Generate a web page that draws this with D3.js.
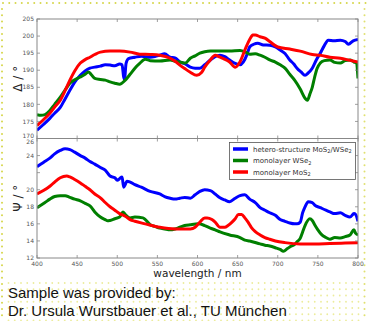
<!DOCTYPE html>
<html><head><meta charset="utf-8">
<script src="https://cdn.jsdelivr.net/npm/d3@7"></script>
<style>
html,body{margin:0;padding:0;background:#fff;}
svg{display:block;}
</style></head>
<body>
<svg id="c" width="367" height="321"></svg>
<script>
// ---- data ----
const xTicks = [400,450,500,550,600,650,700,750,800];
const deltaTicks = [170,175,180,185,190,195,200,205];
const psiTicks = [12,14,16,18,20,22,24,26];
const psiTickLabels = ["12","14","16","18","20","","24","26"];
const seriesNames = ["hetero-structure", "monolayer WSe", "monolayer MoS"];
const seriesColors = ["#0000ff", "#007f00", "#ff0000"];

// Delta (top panel)
const heteroDeltaL = [400,408,416,422,429,435,441,447,454,460,466,472,479,485,491,497,503,506,508,509,511,514,522,530,541,547,553,559,566,572,578,584,591,597,603,609,616,622,628,634,640,647,653,657,662,665,670,675,682,690,697,703,709,715,720,724,729,734,738,743,748,753,758,763,770,778,784,788,794,800];
const heteroDeltaV = [172.4,174.1,175.9,177.4,179.1,181.6,184.1,186.5,188.5,189.8,190.6,190.9,191.2,191.6,191.5,191.3,191.8,191.6,188.0,187.3,192.0,193.4,193.8,194.1,193.8,194.0,194.4,194.8,193.8,193.6,192.4,191.9,190.9,190.6,190.6,191.6,193.0,194.0,194.4,194.0,193.0,192.0,191.6,192.4,194.8,196.8,197.6,197.9,197.4,197.3,196.8,195.9,194.9,193.0,191.8,190.6,189.5,188.5,189.2,190.6,193.0,195.0,197.2,198.8,198.6,198.8,198.4,197.6,198.6,199.0];
const monoWSe2DeltaL = [400,405,410,416,422,429,435,441,447,454,460,464,468,472,479,485,491,497,503,510,516,522,528,535,541,553,566,572,578,585,591,597,603,609,616,622,628,640,653,660,665,672,678,684,690,697,703,709,715,721,728,734,737,740,743,746,749,753,758,765,771,778,784,790,795,798,800];
const monoWSe2DeltaV = [177.0,176.8,177.0,178.2,180.0,182.1,184.2,186.2,187.2,188.0,188.8,189.5,188.6,187.6,187.3,187.1,186.6,186.2,185.9,187.1,188.8,190.6,192.0,193.2,192.8,192.7,193.0,192.6,192.4,192.1,193.5,194.2,195.0,195.4,195.6,195.6,195.6,195.6,195.8,195.3,194.7,194.8,194.4,193.8,193.0,192.4,191.6,190.6,188.8,187.1,184.5,181.8,181.2,183.0,185.0,188.0,190.5,192.1,192.8,193.0,192.3,192.1,192.8,193.0,192.4,192.1,187.6];
const monoMoS2DeltaL = [400,408,416,422,429,435,441,447,454,460,466,472,479,491,503,516,528,541,553,566,572,578,584,591,599,605,609,616,622,628,634,640,647,653,660,665,669,672,678,684,690,700,715,728,743,753,765,778,790,800];
const monoMoS2DeltaV = [173.8,175.5,177.4,179.2,181.2,184.0,187.1,189.8,192.1,193.1,193.8,194.6,195.3,195.6,195.6,195.3,194.7,194.6,194.4,193.5,192.6,191.5,190.5,189.4,188.5,189.3,190.9,193.0,194.4,193.8,193.2,192.4,190.9,192.5,196.5,199.0,200.3,200.3,199.8,199.4,198.4,196.8,196.2,195.6,194.6,194.4,193.8,193.5,192.9,192.4];

// Psi (bottom panel)
const heteroPsiL = [400,408,416,422,429,435,441,447,454,460,466,472,479,485,491,497,500,503,506,508,510,512,516,522,530,541,553,559,566,572,578,584,591,597,603,609,616,622,628,634,640,647,653,659,665,672,678,684,690,697,703,709,715,721,724,728,731,734,738,743,746,753,760,765,771,778,784,790,795,797,800];
const heteroPsiV = [22.7,23.2,23.7,24.2,24.6,24.8,24.7,24.4,24.0,23.7,23.3,23.0,22.6,22.3,21.6,21.4,21.1,21.3,21.5,20.3,20.6,21.0,20.9,20.6,20.3,19.8,19.5,19.2,19.0,18.9,19.0,19.1,19.0,19.4,19.8,20.0,19.9,19.5,19.05,18.8,18.6,19.0,19.3,19.4,18.9,18.5,17.9,17.6,17.3,17.0,16.5,16.3,16.1,16.0,16.0,16.2,17.3,18.0,18.6,18.5,18.2,17.9,17.6,17.4,17.2,17.3,17.0,16.8,17.2,17.1,16.3];
const monoWSe2PsiL = [400,410,416,422,429,435,441,447,454,460,466,472,479,485,488,491,497,503,507,510,516,522,532,535,541,547,553,559,566,572,578,584,591,601,609,616,622,628,640,653,659,665,678,684,690,697,703,707,712,715,721,724,728,731,734,740,743,746,750,755,760,765,771,778,784,790,795,797,800];
const monoWSe2PsiV = [17.9,18.5,18.9,19.2,19.3,19.3,19.1,18.9,18.7,18.4,18.1,17.4,16.8,16.5,16.35,16.4,16.6,16.8,17.4,17.1,16.7,16.8,16.7,16.5,15.9,15.7,15.5,15.4,15.3,15.4,15.6,15.8,15.9,16.0,15.8,15.5,15.3,15.05,14.7,14.4,14.1,14.0,13.65,13.5,13.4,13.2,13.0,12.8,13.1,13.3,13.6,13.9,14.3,15.05,15.8,16.6,16.4,15.9,15.3,14.7,14.4,14.2,14.4,14.35,14.5,14.7,15.3,14.9,14.7];
const monoMoS2PsiL = [400,408,416,422,429,437,441,447,454,460,466,472,479,485,491,497,503,510,516,522,535,553,572,584,591,597,603,609,612,618,622,628,634,638,643,647,651,655,659,663,667,672,678,684,690,697,709,728,746,765,784,800];
const monoMoS2PsiV = [19.5,19.9,20.4,20.9,21.4,21.6,21.5,21.2,20.8,20.4,20.0,19.5,19.05,18.5,18.0,17.6,17.2,16.9,16.5,16.3,16.0,15.6,15.4,15.4,15.4,15.6,16.2,16.7,16.7,16.5,16.2,15.6,15.6,15.8,16.2,16.6,17.1,17.1,16.7,16.2,15.6,15.1,14.7,14.4,14.2,14.0,13.8,13.65,13.65,13.7,13.75,13.8];

// ---- drawing ----
const svg = d3.select("#c");
const W = 367, H = 321;

// decorative dotted frame & dot grid
const deco = svg.append("g");
for (let x = 3; x < W; x += 6.25) deco.append("circle").attr("cx", x).attr("cy", 3).attr("r", 1).attr("fill", "#d6d64a");
for (let y = 9; y < H; y += 6.25) {
  deco.append("circle").attr("cx", 2).attr("cy", y).attr("r", 1).attr("fill", "#d6d64a");
  deco.append("circle").attr("cx", 364.5).attr("cy", y).attr("r", 1).attr("fill", "#e0e070");
}
for (let y = 283; y < H; y += 6.25)
  for (let x = 8.5; x < 362; x += 6.25)
    deco.append("circle").attr("cx", x).attr("cy", y).attr("r", 0.9).attr("fill", "#ecec9c");

const L = 37, R = 358;
const topT = 19, topB = 138.5, botT = 138.5, botB = 258;
const x = d3.scaleLinear().domain([400, 800]).range([L, R]);
const yTop = d3.scaleLinear().domain([170, 205]).range([topB, topT]);
const yBot = d3.scaleLinear().domain([12, 26]).range([botB, botT]);

const tickFont = "DejaVu Sans, sans-serif";
function panel(y) {
  const yr = y.range();
  svg.append("rect").attr("x", L).attr("y", yr[1]).attr("width", R - L).attr("height", yr[0] - yr[1])
    .attr("fill", "#fff");
}
function frame(y, yTicks, yLabels, showX, firstDy, lastDy) {
  const g = svg.append("g");
  const y0 = y.range()[0], y1 = y.range()[1];
  xTicks.forEach(t => {
    g.append("line").attr("x1", x(t)).attr("x2", x(t)).attr("y1", y0).attr("y2", y0 - 3).attr("stroke", "#777").attr("stroke-width", 0.7);
    g.append("line").attr("x1", x(t)).attr("x2", x(t)).attr("y1", y1).attr("y2", y1 + 3).attr("stroke", "#777").attr("stroke-width", 0.7);
    if (showX) g.append("text").attr("x", x(t)).attr("y", y0 + 7.5).attr("text-anchor", "middle")
      .attr("font-family", tickFont).attr("font-size", 6).attr("fill", "#555").text(t);
  });
  yTicks.forEach((t, i) => {
    g.append("line").attr("x1", L).attr("x2", L + 3).attr("y1", y(t)).attr("y2", y(t)).attr("stroke", "#777").attr("stroke-width", 0.7);
    g.append("line").attr("x1", R).attr("x2", R - 3).attr("y1", y(t)).attr("y2", y(t)).attr("stroke", "#777").attr("stroke-width", 0.7);
    let dy = 2.2;
    if (i === 0) dy += firstDy;
    if (i === yTicks.length - 1) dy += lastDy;
    g.append("text").attr("x", L - 3).attr("y", y(t) + dy).attr("text-anchor", "end")
      .attr("font-family", tickFont).attr("font-size", 6).attr("fill", "#555").text(yLabels[i]);
  });
  g.append("rect").attr("x", L).attr("y", y1).attr("width", R - L).attr("height", y0 - y1)
    .attr("fill", "none").attr("stroke", "#888").attr("stroke-width", 1);
}

panel(yTop); panel(yBot);

const defs = svg.append("defs");
defs.append("clipPath").attr("id", "clipTop").append("rect").attr("x", L).attr("y", topT).attr("width", R - L).attr("height", topB - topT);
defs.append("clipPath").attr("id", "clipBot").append("rect").attr("x", L).attr("y", botT).attr("width", R - L).attr("height", botB - botT);

function drawLine(Ls, Vs, y, color, clipId) {
  const line = d3.line().x(d => x(d[0])).y(d => y(d[1])).curve(d3.curveMonotoneX);
  svg.append("path").datum(Ls.map((l, i) => [l, Vs[i]]))
    .attr("d", line).attr("fill", "none").attr("stroke", color).attr("stroke-width", 3)
    .attr("stroke-linejoin", "round").attr("stroke-linecap", "butt")
    .attr("clip-path", `url(#${clipId})`);
}

drawLine(heteroDeltaL, heteroDeltaV, yTop, seriesColors[0], "clipTop");
drawLine(monoWSe2DeltaL, monoWSe2DeltaV, yTop, seriesColors[1], "clipTop");
drawLine(monoMoS2DeltaL, monoMoS2DeltaV, yTop, seriesColors[2], "clipTop");
drawLine(heteroPsiL, heteroPsiV, yBot, seriesColors[0], "clipBot");
drawLine(monoWSe2PsiL, monoWSe2PsiV, yBot, seriesColors[1], "clipBot");
drawLine(monoMoS2PsiL, monoMoS2PsiV, yBot, seriesColors[2], "clipBot");

frame(yTop, deltaTicks, deltaTicks.map(String), false, -3.2, 0);
frame(yBot, psiTicks, psiTickLabels, true, 0, 3.6);

// axis labels
svg.append("text").attr("transform", `translate(22,${(topT + topB) / 2}) rotate(-90)`)
  .attr("text-anchor", "middle").attr("font-family", tickFont).attr("font-size", 12).attr("fill", "#222").text("Δ / °");
svg.append("text").attr("transform", `translate(22,${(botT + botB) / 2}) rotate(-90)`)
  .attr("text-anchor", "middle").attr("font-family", tickFont).attr("font-size", 12).attr("fill", "#222").text("Ψ / °");
svg.append("text").attr("x", (L + R) / 2).attr("y", 277).attr("text-anchor", "middle")
  .attr("font-family", tickFont).attr("font-size", 10.5).attr("fill", "#222").text("wavelength / nm");

// legend
const lg = svg.append("g");
lg.append("rect").attr("x", 229.5).attr("y", 142.5).attr("width", 126).attr("height", 37)
  .attr("fill", "#fff").attr("stroke", "#555").attr("stroke-width", 0.8);
const rowsY = [149, 160.5, 172];
seriesNames.forEach((n, i) => {
  lg.append("line").attr("x1", 233).attr("x2", 248).attr("y1", rowsY[i]).attr("y2", rowsY[i])
    .attr("stroke", seriesColors[i]).attr("stroke-width", 3.5);
  const t = lg.append("text").attr("x", 253).attr("y", rowsY[i] + 2.5)
    .attr("font-family", tickFont).attr("font-size", 7).attr("fill", "#333");
  if (i === 0) {
    t.append("tspan").text("hetero-structure MoS");
    t.append("tspan").attr("font-size", 5).attr("dy", 1.5).text("2");
    t.append("tspan").attr("dy", -1.5).text("/WSe");
    t.append("tspan").attr("font-size", 5).attr("dy", 1.5).text("2");
  } else {
    t.append("tspan").text(n);
    t.append("tspan").attr("font-size", 5).attr("dy", 1.5).text("2");
  }
});

// bottom caption
svg.append("text").attr("x", 8).attr("y", 298).attr("font-family", "Liberation Sans, Arial, sans-serif")
  .attr("font-size", 15).attr("fill", "#111").text("Sample was provided by:");
svg.append("text").attr("x", 8).attr("y", 315.5).attr("font-family", "Liberation Sans, Arial, sans-serif")
  .attr("font-size", 15).attr("fill", "#111").text("Dr. Ursula Wurstbauer et al., TU München");
</script>
</body></html>
